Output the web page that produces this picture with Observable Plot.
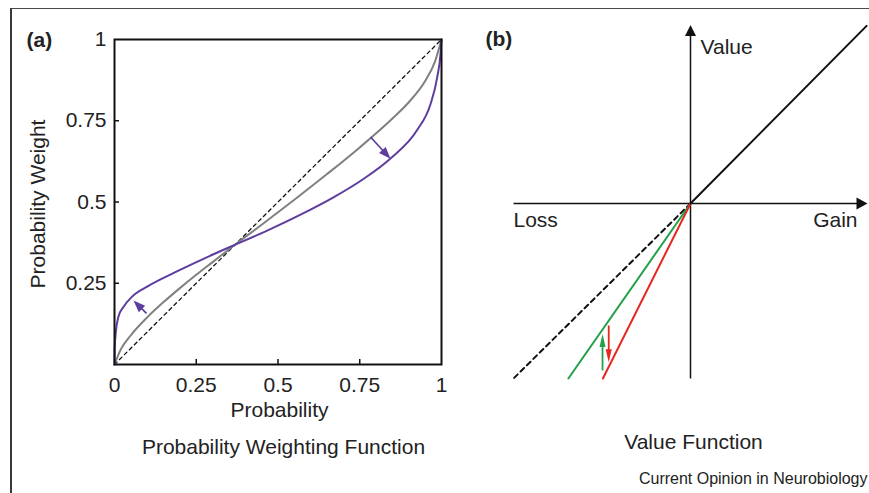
<!DOCTYPE html>
<html><head><meta charset="utf-8">
<script src="https://cdn.jsdelivr.net/npm/d3@7"></script>
<script src="https://cdn.jsdelivr.net/npm/@observablehq/plot@0.6"></script>
<style>
html,body{margin:0;padding:0;background:#fff;}
#page{position:relative;width:869px;height:493px;overflow:hidden;font-family:"Liberation Sans",Arial,sans-serif;background:#fff;}
#border{position:absolute;left:10px;top:8px;width:880px;height:520px;border-top:1.5px solid #4a4a4a;border-left:2px solid #3a3a3a;z-index:5;pointer-events:none;}
#page svg{position:absolute;top:0;}
</style></head><body><div id="page"><div id="border"></div></div>
<script>
// ---------- Panel (a): probability weighting function ----------
const probTicks = [0, 0.25, 0.5, 0.75, 1];
const probTickLabels = ["0", "0.25", "0.5", "0.75", "1"];
const weightTicks = [0.25, 0.5, 0.75, 1];
const weightTickLabels = ["0.25", "0.5", "0.75", "1"];
const identityP = [0, 1];
const grayP = [0, 0.02, 0.05, 0.1, 0.15, 0.2, 0.25, 0.3, 0.368, 0.45, 0.55, 0.65, 0.75, 0.85, 0.9, 0.95, 0.98, 1];
const grayW = [0, 0.048, 0.090, 0.145, 0.192, 0.235, 0.276, 0.315, 0.368, 0.430, 0.507, 0.586, 0.668, 0.757, 0.807, 0.872, 0.932, 1];
const purpleP = [0, 0.0005, 0.004, 0.012, 0.028, 0.053, 0.104, 0.186, 0.287, 0.368, 0.467, 0.569, 0.671, 0.760, 0.844, 0.926, 0.966, 0.987, 0.997, 1];
const purpleW = [0, 0.050, 0.099, 0.147, 0.178, 0.208, 0.242, 0.284, 0.332, 0.368, 0.412, 0.461, 0.515, 0.570, 0.634, 0.722, 0.800, 0.884, 0.956, 1];
const shiftA_x1 = [0.098, 0.783];
const shiftA_y1 = [0.157, 0.700];
const shiftA_x2 = [0.058, 0.844];
const shiftA_y2 = [0.197, 0.633];

// ---------- Panel (b): value function ----------
const axisGainLoss = [-1, 1];
const axisValue = [-1, 1.02];
const gainX = [0, 0.995], gainY = [0, 1.015];
const lossRefX = [0, -1], lossRefY = [0, -1];
const lossGreenX = [0, -0.69], lossGreenY = [0, -1];
const lossRedX = [0, -0.495], lossRedY = [0, -1];
const shiftB_x = [-0.497, -0.462];
const shiftB_from = [-0.954, -0.697];
const shiftB_to = [-0.745, -0.907];
const shiftB_colors = ["#22a04a", "#e8251f"];

const FONT = "Liberation Sans, Arial, sans-serif";
const PURPLE = "#5d3d9e", GRAY = "#808080", INK = "#111", TEXT = "#222";
const FS = 21;

function headSymbol(len, halfW) {
  return {draw(ctx) { ctx.moveTo(0, 0); ctx.lineTo(halfW, len); ctx.lineTo(-halfW, len); ctx.closePath(); }};
}
function arrowMarks(a, {kx, ky, len, halfW, color, width}) {
  const dxp = (a.x2 - a.x1) * kx, dyp = -(a.y2 - a.y1) * ky;
  const L = Math.hypot(dxp, dyp);
  const ang = Math.atan2(dxp, -dyp) * 180 / Math.PI;
  const back = Math.min(1, (len * 0.6) / L);
  const row = {x1: a.x1, y1: a.y1, x2: a.x2, y2: a.y2,
    xs: a.x2 - (a.x2 - a.x1) * back, ys: a.y2 - (a.y2 - a.y1) * back, ang};
  return [
    Plot.link([row], {x1: "x1", y1: "y1", x2: "xs", y2: "ys", stroke: color, strokeWidth: width}),
    Plot.dot([row], {x: "x2", y: "y2", rotate: "ang", symbol: headSymbol(len, halfW), r: 5, fill: color, stroke: "none"})
  ];
}

// Panel (a)
const A = {width: 460, height: 493, ml: 114, mr: 19, mt: 39, mb: 129};
const kxA = A.width - A.ml - A.mr, kyA = A.height - A.mt - A.mb;
const idx = (arr) => arr.map((_, i) => i);
const plotA = Plot.plot({
  width: A.width, height: A.height,
  marginLeft: A.ml, marginRight: A.mr, marginTop: A.mt, marginBottom: A.mb,
  x: {domain: [0, 1], axis: null},
  y: {domain: [0, 1], axis: null},
  style: {fontFamily: FONT, background: "transparent", color: TEXT, overflow: "visible"},
  marks: [
    Plot.line(identityP, {x: d => d, y: d => d, stroke: INK, strokeWidth: 1.3, strokeDasharray: "3.5,3.5"}),
    Plot.line(idx(grayP), {x: i => grayP[i], y: i => grayW[i], stroke: GRAY, strokeWidth: 2, curve: "monotone-x"}),
    Plot.line(idx(purpleP), {x: i => purpleP[i], y: i => purpleW[i], stroke: PURPLE, strokeWidth: 2, curve: "monotone-x"}),
    ...shiftA_x1.flatMap((_, i) => arrowMarks({x1: shiftA_x1[i], y1: shiftA_y1[i], x2: shiftA_x2[i], y2: shiftA_y2[i]},
      {kx: kxA, ky: kyA, len: 12, halfW: 4.5, color: PURPLE, width: 1.7})),
    Plot.ruleX(probTicks.slice(1, -1), {x: d => d, y1: 0, y2: 5 / kyA, stroke: INK, strokeWidth: 1.5}),
    Plot.ruleY(weightTicks.slice(0, -1), {y: d => d, x1: 0, x2: 5 / kxA, stroke: INK, strokeWidth: 1.5}),
    Plot.frame({stroke: INK, strokeWidth: 2}),
    Plot.text(idx(probTicks), {x: i => probTicks[i], y: 0, text: i => probTickLabels[i], dy: 21, fontSize: FS, fill: TEXT}),
    Plot.text(idx(weightTicks), {x: 0, y: i => weightTicks[i], text: i => weightTickLabels[i], dx: -8, textAnchor: "end", fontSize: FS, fill: TEXT}),
    Plot.text(["Probability"], {frameAnchor: "bottom", text: d => d, dx: 1.5, dy: 46, textAnchor: "middle", lineAnchor: "middle", fontSize: FS, fill: TEXT}),
    Plot.text(["Probability Weighting Function"], {frameAnchor: "bottom", text: d => d, dx: 5.5, dy: 83, textAnchor: "middle", lineAnchor: "middle", fontSize: FS, fill: TEXT}),
    Plot.text(["Probability Weight"], {frameAnchor: "left", text: d => d, rotate: -90, dx: -76, dy: 2, textAnchor: "middle", lineAnchor: "middle", fontSize: FS, fill: TEXT}),
    Plot.text(["(a)"], {frameAnchor: "top-left", text: d => d, dx: -88, dy: 1, textAnchor: "start", lineAnchor: "middle", fontWeight: "bold", fontSize: 21, fill: TEXT})
  ]
});
plotA.style.left = "0px";
document.getElementById("page").appendChild(plotA);

// Panel (b)
const B = {width: 409, height: 493, ml: 53, mr: 2, mt: 24.5, mb: 115};
const kxB = (B.width - B.ml - B.mr) / 2, kyB = (B.height - B.mt - B.mb) / (axisValue[1] - axisValue[0]);
const plotB = Plot.plot({
  width: B.width, height: B.height,
  marginLeft: B.ml, marginRight: B.mr, marginTop: B.mt, marginBottom: B.mb,
  x: {domain: axisGainLoss, axis: null},
  y: {domain: axisValue, axis: null},
  style: {fontFamily: FONT, background: "transparent", color: TEXT, overflow: "visible"},
  marks: [
    ...arrowMarks({x1: axisGainLoss[0], y1: 0, x2: axisGainLoss[1], y2: 0}, {kx: kxB, ky: kyB, len: 11, halfW: 6, color: INK, width: 1.5}),
    ...arrowMarks({x1: 0, y1: axisValue[0], x2: 0, y2: axisValue[1]}, {kx: kxB, ky: kyB, len: 11, halfW: 5.5, color: INK, width: 1.5}),
    Plot.line(idx(lossRefX), {x: i => lossRefX[i], y: i => lossRefY[i], stroke: INK, strokeWidth: 2, strokeDasharray: "5,4"}),
    Plot.line(idx(lossGreenX), {x: i => lossGreenX[i], y: i => lossGreenY[i], stroke: shiftB_colors[0], strokeWidth: 2}),
    Plot.line(idx(lossRedX), {x: i => lossRedX[i], y: i => lossRedY[i], stroke: shiftB_colors[1], strokeWidth: 2}),
    Plot.line(idx(gainX), {x: i => gainX[i], y: i => gainY[i], stroke: INK, strokeWidth: 2}),
    ...shiftB_x.flatMap((_, i) => arrowMarks({x1: shiftB_x[i], y1: shiftB_from[i], x2: shiftB_x[i], y2: shiftB_to[i]},
      {kx: kxB, ky: kyB, len: 13, halfW: 3, color: shiftB_colors[i], width: 1.8})),
    Plot.text(["Value"], {x: 0, y: axisValue[1], text: d => d, dx: 10, dy: 22.5, textAnchor: "start", fontSize: FS, fill: TEXT}),
    Plot.text(["Loss"], {x: axisGainLoss[0], y: 0, text: d => d, dy: 17, textAnchor: "start", fontSize: FS, fill: TEXT}),
    Plot.text(["Gain"], {x: axisGainLoss[1], y: 0, text: d => d, dx: -10, dy: 17, textAnchor: "end", fontSize: FS, fill: TEXT}),
    Plot.text(["Value Function"], {x: 0, y: axisValue[0], text: d => d, dx: 3, dy: 63.5, fontSize: FS, fill: TEXT}),
    Plot.text(["Current Opinion in Neurobiology"], {x: axisGainLoss[1], y: axisValue[0], text: d => d, dy: 100.5, textAnchor: "end", fontSize: 16, fill: TEXT}),
    Plot.text(["(b)"], {frameAnchor: "top-left", text: d => d, dx: -28, dy: 14, textAnchor: "start", lineAnchor: "middle", fontWeight: "bold", fontSize: 21, fill: TEXT})
  ]
});
plotB.style.left = "460px";
document.getElementById("page").appendChild(plotB);
</script>
</body></html>
